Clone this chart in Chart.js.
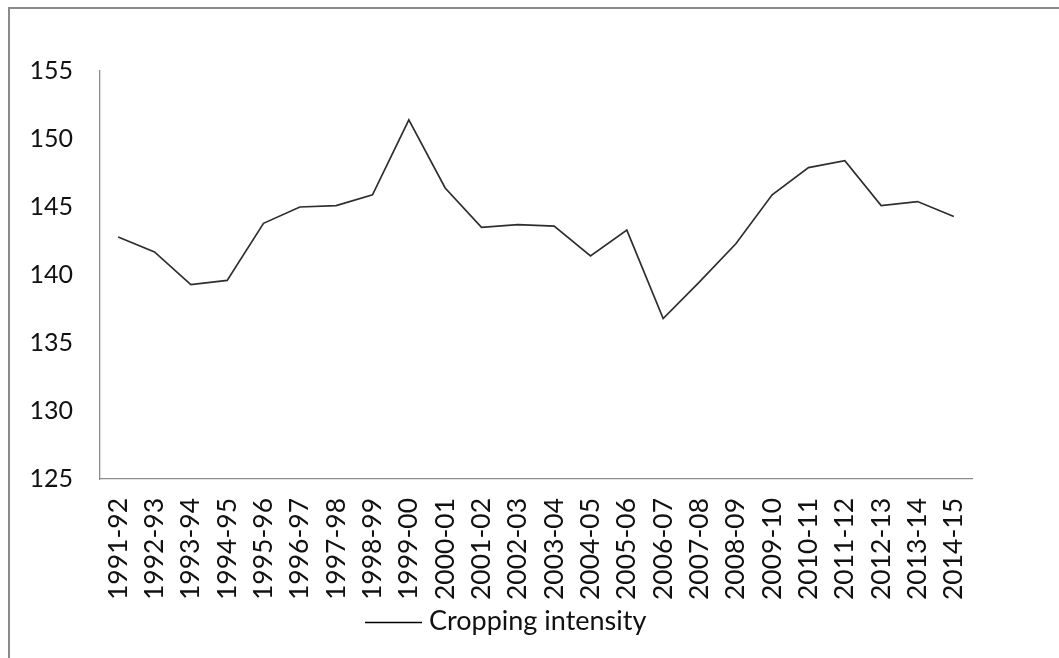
<!DOCTYPE html>
<html>
<head>
<meta charset="utf-8">
<script src="https://cdn.jsdelivr.net/npm/chart.js@4/dist/chart.umd.min.js"></script>
<style>
  html, body { margin: 0; padding: 0; background: #fff; overflow: hidden; }
  #wrap { position: relative; width: 1059px; height: 658px; }
  #frame { position: absolute; left: 8px; top: 7px; width: 1200px; height: 800px;
           border-left: 2px solid #8a8a8a; border-top: 2px solid #8a8a8a; }
  canvas { position: absolute; left: 0; top: 0; }
</style>
</head>
<body>
<div id="wrap">
  <div id="frame"></div>
  <canvas id="c" width="1059" height="658"></canvas>
</div>
<script>
// Cropping intensity (%) by agricultural year
const years = ['1991-92','1992-93','1993-94','1994-95','1995-96','1996-97','1997-98','1998-99',
  '1999-00','2000-01','2001-02','2002-03','2003-04','2004-05','2005-06','2006-07','2007-08',
  '2008-09','2009-10','2010-11','2011-12','2012-13','2013-14','2014-15'];
const croppingIntensity = [142.8, 141.7, 139.3, 139.6, 143.8, 145.0, 145.1, 145.9,
  151.4, 146.4, 143.5, 143.7, 143.6, 141.4, 143.3, 136.8, 139.5,
  142.3, 145.9, 147.9, 148.4, 145.1, 145.4, 144.3];
const yMin = 125, yMax = 155, yStep = 5;
const seriesName = 'Cropping intensity';

const FONT = 'Lato, "Open Sans", sans-serif';
const TEXT = '#111111';

// Legend drawn under the axis labels: a short line and the series name
const bottomLegend = {
  id: 'bottomLegend',
  afterDraw(chart) {
    const ds = chart.data.datasets[0];
    const ctx = chart.ctx;
    ctx.save();
    ctx.strokeStyle = '#000';
    ctx.lineWidth = 1.5;
    ctx.beginPath();
    ctx.moveTo(365, 622.5);
    ctx.lineTo(422, 622.5);
    ctx.stroke();
    ctx.fillStyle = TEXT;
    ctx.font = '27px ' + FONT;
    ctx.textAlign = 'left';
    ctx.textBaseline = 'middle';
    ctx.fillText(ds.label, 429, 621);
    ctx.restore();
  }
};

new Chart(document.getElementById('c'), {
  type: 'line',
  data: {
    labels: years,
    datasets: [{
      label: seriesName,
      data: croppingIntensity,
      borderColor: '#2e2e2e',
      borderWidth: 1.7,
      pointRadius: 0,
      tension: 0,
      fill: false
    }]
  },
  options: {
    responsive: false,
    animation: false,
    devicePixelRatio: 1,
    layout: { padding: { left: 0, top: 71, right: 87, bottom: 0 } },
    plugins: { legend: { display: false }, tooltip: { enabled: false } },
    scales: {
      x: {
        offset: true,
        grid: { display: false, drawTicks: false },
        border: { display: true, color: '#8c8c8c', width: 1.3 },
        ticks: {
          autoSkip: false, minRotation: 90, maxRotation: 90, padding: 19,
          color: TEXT, font: { family: FONT, size: 26.5 }
        },
        afterFit(scale) { scale.height = 179; }
      },
      y: {
        min: yMin, max: yMax,
        grid: { display: false, drawTicks: false },
        border: { display: true, color: '#8c8c8c', width: 1.3 },
        ticks: {
          stepSize: yStep, padding: 27,
          color: TEXT, font: { family: FONT, size: 25 }
        },
        afterFit(scale) { scale.width = 100; }
      }
    }
  },
  plugins: [bottomLegend]
});
</script>
</body>
</html>
